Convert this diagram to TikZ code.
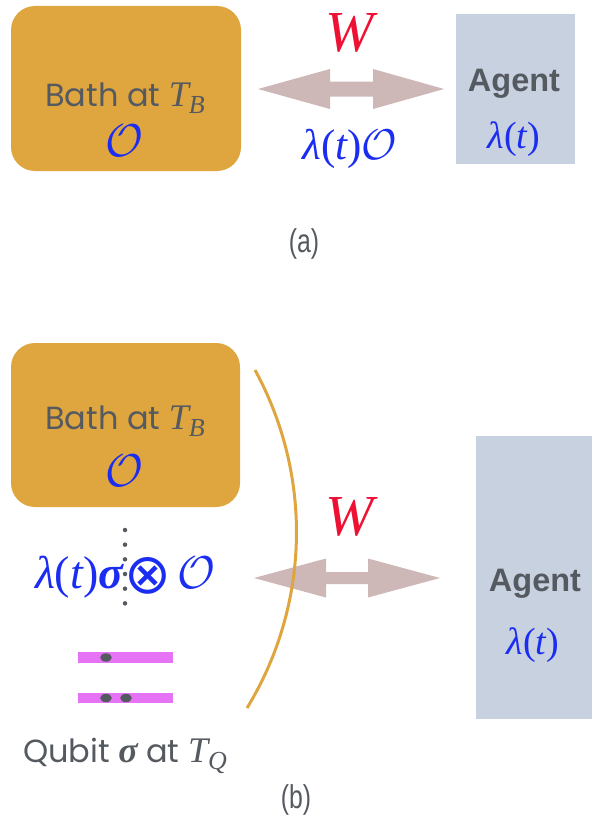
\RequirePackage{fix-cm}
\documentclass[tikz,border=0pt]{standalone}
\usepackage{graphicx}
\usepackage{amsmath}
\usepackage{fontspec}
\newfontfamily\pop{Poppins}
\newfontfamily\lsans{Liberation Sans}
\newfontfamily\tms{Liberation Serif}
\newfontfamily\djv{DejaVu Sans}
\newcommand\fsz[1]{\fontsize{#1}{#1}\selectfont}
\definecolor{bathc}{HTML}{DFA640}
\definecolor{agentc}{HTML}{C8D1E0}
\definecolor{arrowc}{HTML}{CDB7B7}
\definecolor{wred}{HTML}{EE1133}
\definecolor{mblue}{HTML}{1A2DF0}
\definecolor{tgray}{HTML}{555A60}
\definecolor{barc}{HTML}{E673F5}
\tikzset{
  bathbox/.style={fill=bathc, draw=none, rounded corners=24pt, inner sep=0pt},
  agentbox/.style={fill=agentc, draw=none, inner sep=0pt},
  grtext/.style={text=tgray, inner sep=0pt, anchor=base},
  bltext/.style={text=mblue, inner sep=0pt},
  wlabel/.style={text=wred, inner sep=0pt, font=\tms\itshape\fsz{58}},
  agtext/.style={text=tgray, inner sep=0pt, anchor=base, font=\lsans\bfseries\fsz{32.5}},
  captext/.style={text=tgray, inner sep=0pt},
  workarrow/.style={fill=arrowc, draw=none},
  qbar/.style={fill=barc, draw=none},
  qdot/.style={fill=tgray, draw=none},
  cut/.style={draw=bathc, line width=3pt},
  dotline/.style={draw=tgray, line width=4.5pt, line cap=round, dash pattern=on 0pt off 14.67pt}
}
\newcommand\TB{{\tms\itshape\fsz{36}T\raisebox{-0.22em}{\fsz{26}B}}}
\newcommand\TQ{{\tms\itshape\fsz{36}T\raisebox{-0.22em}{\fsz{26}Q}}}
\newcommand\lamt{{\tms\itshape λ\upshape(\itshape t\upshape)}}
\begin{document}
\begin{tikzpicture}[x=1pt,y=-1pt]
\useasboundingbox (0,0) rectangle (592,816);
% ---------- panel (a)
\node[bathbox, minimum width=230pt, minimum height=165pt] (bathA) at (126,88.5) {};
\node[grtext, text depth=0pt] (bathAt) at (125,106) {{\pop\fsz{32}Bath at }\TB};
\node[bltext, font=\fsz{46}] (bathAO) at (124,141) {$\mathcal{O}$};
\node[agentbox, minimum width=119pt, minimum height=150pt] (agentA) at (515.5,89) {};
\node[agtext] (agentAt) at (514,91) {Agent};
\node[bltext, font=\fsz{38}] (agentAl) at (514,139) {\lamt};
\fill[workarrow] (258,89) -- (330,69) -- (330,81.5) -- (373,81.5) -- (373,69) -- (444,89)
  -- (373,109) -- (373,96.5) -- (330,96.5) -- (330,109) -- cycle;
\node[wlabel] (WA) at (350,33) {W};
\node[bltext, font=\fsz{43}] (couplA) at (350,149) {\lamt$\mathcal{O}$};
\node[captext] (capA) at (304,244) {\scalebox{0.75}[1]{\lsans\fsz{33}(a)}};
% ---------- panel (b)
\node[bathbox, minimum width=229pt, minimum height=164pt] (bathB) at (125.5,425) {};
\node[grtext, text depth=0pt] (bathBt) at (125,429) {{\pop\fsz{32}Bath at }\TB};
\node[bltext, font=\fsz{46}] (bathBO) at (124,471) {$\mathcal{O}$};
\coordinate (dtop) at (125,530);
\coordinate (dbot) at (125,618);
\draw[dotline] (dtop) -- (dbot);
\node[bltext, font=\fsz{46}] (couplB) at (125,577) {\lamt{\tms\bfseries\itshape σ}\hspace{1pt}{\djv\fsz{56}\raisebox{-5.5pt}{⊗}}\hspace{6pt}$\mathcal{O}$};
\fill[qbar] (78,652) rectangle (173,663);
\fill[qbar] (78,693) rectangle (173,703);
\fill[qdot] (106,657.5) ellipse [x radius=5.8pt, y radius=4.2pt];
\fill[qdot] (106,698) ellipse [x radius=5.8pt, y radius=4.2pt];
\fill[qdot] (126,698) ellipse [x radius=5.8pt, y radius=4.2pt];
\node[grtext] (qubit) at (125,762) {{\pop\fsz{32}Qubit }{\tms\bfseries\itshape\fsz{36}σ}{\pop\fsz{32} at }\TQ};
\fill[workarrow] (254,578) -- (326,558.5) -- (326,572) -- (368,572) -- (368,558.5) -- (440,578)
  -- (368,597.5) -- (368,584) -- (326,584) -- (326,597.5) -- cycle;
\draw[cut] (255,370) .. controls (313,476) and (310,605) .. (247,708);
\node[wlabel] (WB) at (350,517) {W};
\node[agentbox, minimum width=116pt, minimum height=283pt] (agentB) at (534,577.5) {};
\node[agtext] (agentBt) at (535,591) {Agent};
\node[bltext, font=\fsz{38}] (agentBl) at (533,645) {\lamt};
\node[captext] (capB) at (296,800) {\scalebox{0.75}[1]{\lsans\fsz{33}(b)}};
\end{tikzpicture}
\end{document}
